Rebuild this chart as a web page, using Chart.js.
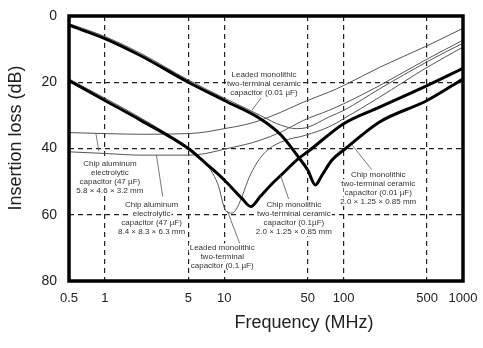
<!DOCTYPE html>
<html>
<head>
<meta charset="utf-8">
<script src="https://cdn.jsdelivr.net/npm/chart.js@4.4.1/dist/chart.umd.min.js"></script>
<style>
  html, body { margin: 0; padding: 0; background: #fff; }
</style>
</head>
<body>
<canvas id="lossChart" width="483" height="348"></canvas>
<script>
// axis ticks
const freqTicks = [0.5, 1, 5, 10, 50, 100, 500, 1000];
const lossTicks = [0, 20, 40, 60, 80];

// chip monolithic two-terminal ceramic 0.01 uF (thick)
const chip001Freq = [0.5, 1, 2, 5, 10, 20, 30, 42, 50, 58, 66, 80, 104, 200, 500, 1000];
const chip001Loss = [2.8, 6.8, 12, 20, 25.5, 31, 36, 42.7, 46.5, 51, 48, 43.5, 40, 32, 25.5, 19];

// chip monolithic two-terminal ceramic 0.1 uF (thick)
const chip01Freq = [0.5, 1, 2, 5, 7, 10, 14, 16.7, 20, 25, 30, 42, 50, 100, 200, 500, 1000];
const chip01Loss = [19.5, 25.5, 31.5, 40, 44.5, 49.5, 55, 57.5, 54.5, 50.7, 48, 43, 41, 32.5, 27.5, 21, 15.8];

// chip aluminum electrolytic 47 uF, 5.8 x 4.6 x 3.2
const alu58Freq = [0.5, 1, 2, 5, 7, 10, 15, 20, 30, 46, 75, 100, 200, 500, 1000];
const alu58Loss = [35.2, 35.5, 35.7, 35.5, 35, 34, 32.8, 31.5, 29, 26, 23, 21, 15.5, 9, 3.7];

// chip aluminum electrolytic 47 uF, 8.4 x 8.3 x 6.3
const alu84Freq = [0.5, 1, 2, 5, 7, 10, 15, 20, 30, 46, 75, 100, 200, 500, 1000];
const alu84Loss = [41, 41.5, 42, 42, 41.5, 40.2, 38.8, 37.5, 35, 31.5, 28.5, 26.5, 21, 13, 7.3];

// leaded monolithic two-terminal ceramic 0.01 uF
const lead001Freq = [0.5, 1, 2, 5, 10, 15, 20, 25, 30, 40, 50, 75, 100, 200, 500, 1000];
const lead001Loss = [2.3, 6.2, 11.3, 19.3, 24.8, 27.8, 30, 31.8, 33, 34, 33.6, 30.5, 28.5, 22, 13.8, 8.2];

// leaded monolithic two-terminal 0.1 uF
const lead01Freq = [0.5, 1, 2, 4.6, 6.8, 8.8, 10.3, 11.6, 12.8, 16.7, 21.5, 30, 48, 75, 100, 200, 500, 1000];
const lead01Loss = [19, 24.8, 30.8, 39, 44, 50.6, 58.8, 59.5, 57.9, 47.6, 41.5, 38, 36, 33.5, 31, 24.5, 15.5, 9.4];

// callout texts, anchored in data units (freq, dB of first line)
const noteText = [
  ['Leaded monolithic', 'two-terminal ceramic', 'capacitor (0.01 µF)'],
  ['Chip aluminum', 'electrolytic', 'capacitor (47 µF)', '5.8 × 4.6 × 3.2 mm'],
  ['Chip aluminum', 'electrolytic', 'capacitor (47 µF)', '8.4 × 8.3 × 6.3 mm'],
  ['Leaded monolithic', 'two-terminal', 'capacitor (0.1 µF)'],
  ['Chip monolithic', 'two-terminal ceramic', 'capacitor (0.1µF)', '2.0 × 1.25 × 0.85 mm'],
  ['Chip monolithic', 'two-terminal ceramic', 'capacitor (0.01 µF)', '2.0 × 1.25 × 0.85 mm']
];
const noteFreq = [21.5, 1.1, 2.46, 9.6, 38.3, 195];
const noteLoss = [17.9, 44.5, 57, 70, 57, 47.9];

// leader lines from the callouts to their curves
const leaderFreqA = [20.3, 0.84, 2.7, 13.8, 34.6, 172];
const leaderLossA = [24.8, 35.5, 42, 69.7, 55.2, 46.4];
const leaderFreqB = [17, 0.89, 3.05, 10.6, 29.5, 118];
const leaderLossB = [28.5, 40.8, 54.5, 58.8, 48, 39];

const toPoints = (xs, ys) => xs.map((x, i) => ({ x: x, y: ys[i] }));

const thick = { borderColor: '#000', borderWidth: 3, pointRadius: 0, cubicInterpolationMode: 'monotone', fill: false };
const thin = { borderColor: '#555', borderWidth: 1, pointRadius: 0, cubicInterpolationMode: 'monotone', fill: false };

const fontFamily = "'Liberation Sans', Arial, sans-serif";

const notesPlugin = {
  id: 'notes',
  afterDatasetsDraw(chart) {
    const { ctx, scales: { x, y } } = chart;
    ctx.save();
    // leaders
    ctx.strokeStyle = '#555';
    ctx.lineWidth = 0.8;
    leaderFreqA.forEach((f, i) => {
      ctx.beginPath();
      ctx.moveTo(x.getPixelForValue(f), y.getPixelForValue(leaderLossA[i]));
      ctx.lineTo(x.getPixelForValue(leaderFreqB[i]), y.getPixelForValue(leaderLossB[i]));
      ctx.stroke();
    });
    // texts
    ctx.font = '8px ' + fontFamily;
    ctx.textAlign = 'center';
    ctx.textBaseline = 'middle';
    noteText.forEach((lines, i) => {
      const cx = x.getPixelForValue(noteFreq[i]);
      const cy = y.getPixelForValue(noteLoss[i]);
      lines.forEach((line, j) => {
        const w = ctx.measureText(line).width;
        ctx.fillStyle = '#fff';
        ctx.fillRect(cx - w / 2 - 1, cy + j * 9 - 4.5, w + 2, 9);
        ctx.fillStyle = '#333';
        ctx.fillText(line, cx, cy + j * 9);
      });
    });
    ctx.restore();
  }
};

const framePlugin = {
  id: 'frame',
  afterDraw(chart) {
    const { ctx, chartArea: a } = chart;
    ctx.save();
    ctx.strokeStyle = '#000';
    ctx.lineWidth = 3.5;
    ctx.strokeRect(a.left, a.top, a.right - a.left, a.bottom - a.top);
    // axis titles
    ctx.fillStyle = '#222';
    ctx.font = '18px ' + fontFamily;
    ctx.textAlign = 'center';
    ctx.textBaseline = 'middle';
    ctx.fillText('Frequency (MHz)', 304, 323);
    ctx.translate(16, 138);
    ctx.rotate(-Math.PI / 2);
    ctx.fillText('Insertion loss (dB)', 0, 0);
    ctx.restore();
  }
};

new Chart(document.getElementById('lossChart').getContext('2d'), {
  type: 'line',
  data: {
    datasets: [
      { label: 'Chip monolithic 0.01 µF', data: toPoints(chip001Freq, chip001Loss), ...thick },
      { label: 'Chip monolithic 0.1 µF', data: toPoints(chip01Freq, chip01Loss), ...thick },
      { label: 'Chip aluminum 5.8 × 4.6 × 3.2 mm', data: toPoints(alu58Freq, alu58Loss), ...thin },
      { label: 'Chip aluminum 8.4 × 8.3 × 6.3 mm', data: toPoints(alu84Freq, alu84Loss), ...thin },
      { label: 'Leaded monolithic 0.01 µF', data: toPoints(lead001Freq, lead001Loss), ...thin },
      { label: 'Leaded monolithic 0.1 µF', data: toPoints(lead01Freq, lead01Loss), ...thin }
    ]
  },
  options: {
    responsive: false,
    animation: false,
    layout: { padding: { top: 16, right: 20, left: 0, bottom: 0 } },
    plugins: { legend: { display: false }, tooltip: { enabled: false } },
    scales: {
      x: {
        type: 'logarithmic',
        min: 0.5,
        max: 1000,
        afterBuildTicks: (scale) => { scale.ticks = freqTicks.map(v => ({ value: v })); },
        afterFit: (scale) => {
          scale.height = 67;
          scale.paddingLeft = 0;
          scale.paddingRight = 0;
        },
        ticks: {
          autoSkip: false,
          maxRotation: 0,
          padding: 10,
          color: '#222',
          font: { family: fontFamily, size: 13 },
          callback: (v) => String(v)
        },
        grid: { color: '#222', lineWidth: 1.2, drawTicks: false },
        border: { display: false, dash: [5, 4] }
      },
      y: {
        reverse: true,
        min: 0,
        max: 80,
        afterBuildTicks: (scale) => { scale.ticks = lossTicks.map(v => ({ value: v })); },
        afterFit: (scale) => {
          scale.width = 69;
          scale.paddingTop = 0;
          scale.paddingBottom = 0;
        },
        ticks: {
          padding: 12,
          color: '#222',
          font: { family: fontFamily, size: 14 }
        },
        grid: { color: '#222', lineWidth: 1.2, drawTicks: false },
        border: { display: false, dash: [5, 4] }
      }
    }
  },
  plugins: [notesPlugin, framePlugin]
});
</script>
</body>
</html>
